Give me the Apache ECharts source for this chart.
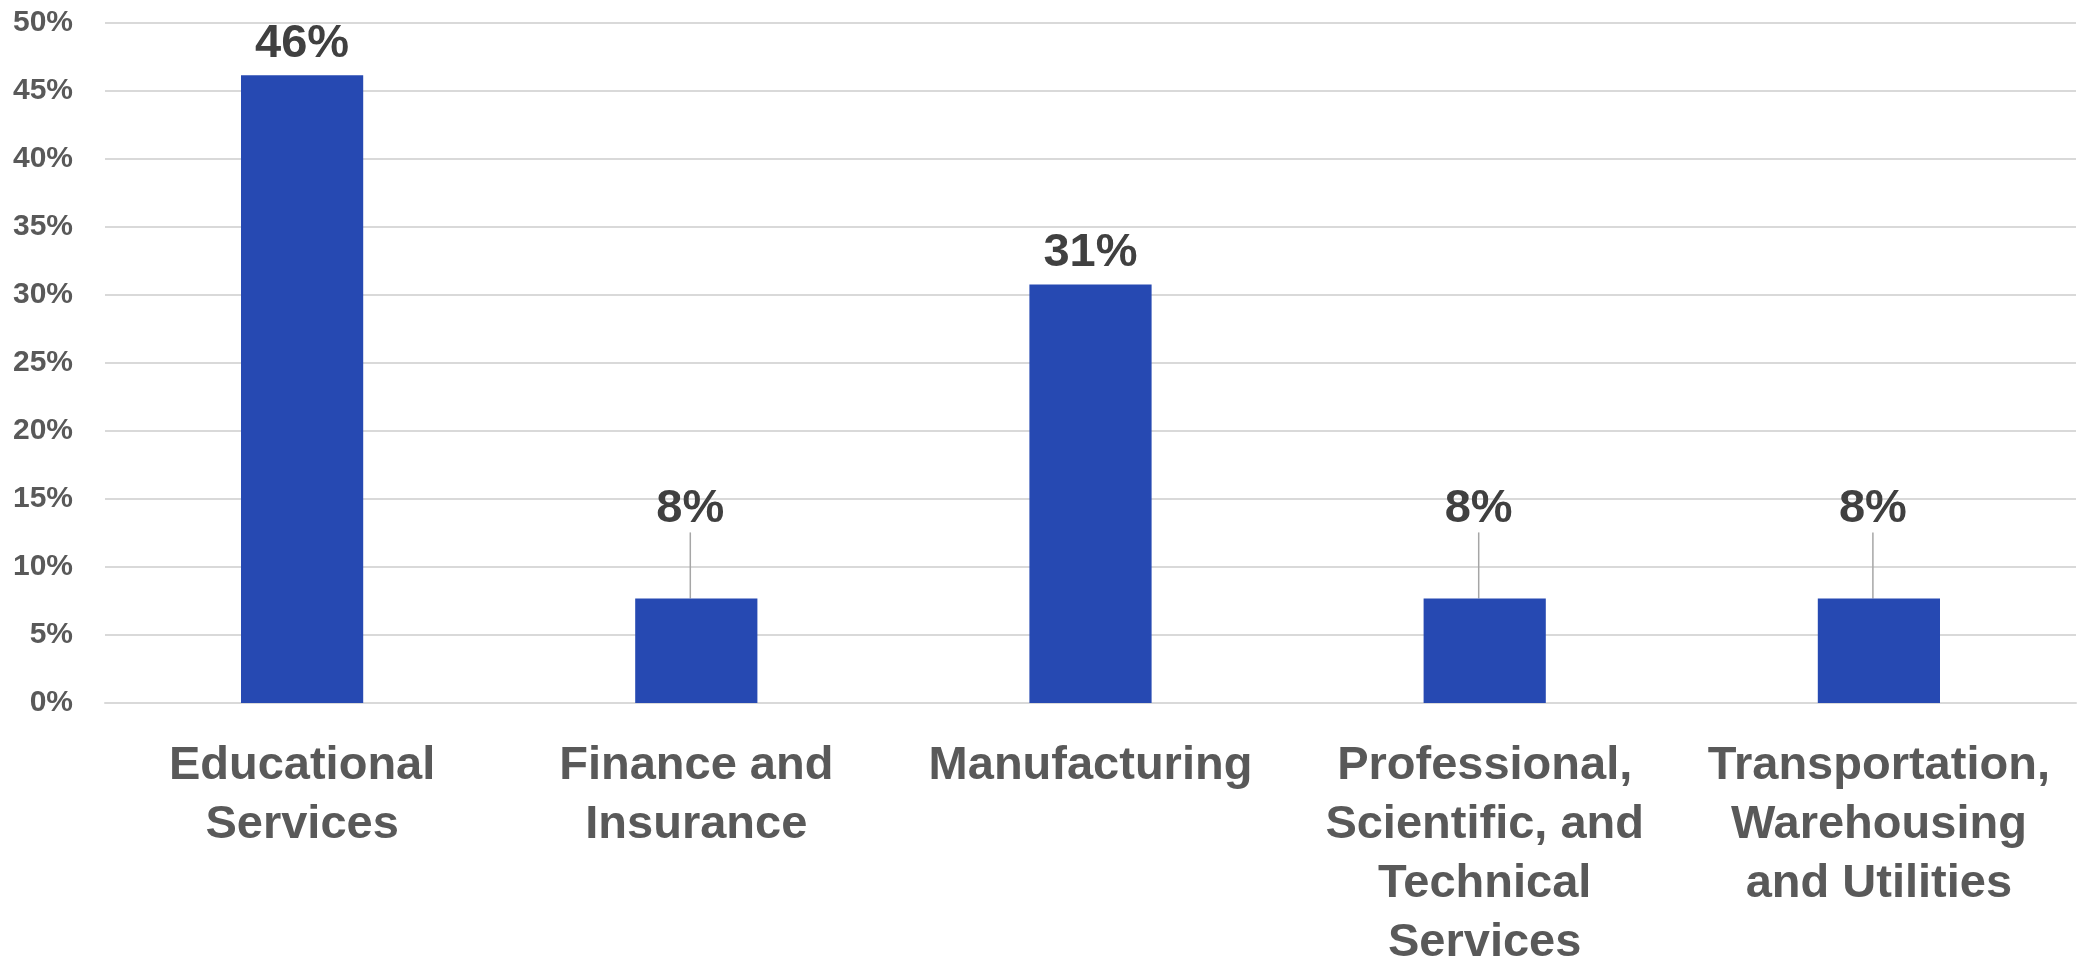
<!DOCTYPE html>
<html>
<head>
<meta charset="utf-8">
<title>Share by industry</title>
<script src="https://cdn.jsdelivr.net/npm/echarts@6/dist/echarts.min.js"></script>
<style>
  html, body { margin: 0; padding: 0; background: #ffffff; }
  #chart { width: 2090px; height: 959px; }
</style>
</head>
<body>
<div id="chart"></div>
<script>
// Industry categories (line breaks as shown under the axis)
const categories = [
  'Educational\nServices',
  'Finance and\nInsurance',
  'Manufacturing',
  'Professional,\nScientific, and\nTechnical\nServices',
  'Transportation,\nWarehousing\nand Utilities'
];

// Share of respondents per industry, in percent
const shares = [46.15, 7.69, 30.77, 7.69, 7.69];

// Value axis range and step, in percent
const axisMax = 50;
const axisStep = 5;

// Bars shorter than this get their label lifted with a leader line
const liftBelow = 10;

const FONT = '"Liberation Sans", Arial, sans-serif';

const chart = echarts.init(document.getElementById('chart'), null, { renderer: 'canvas' });

chart.setOption({
  animation: false,
  backgroundColor: '#ffffff',
  grid: {
    left: 105, right: 14, top: 23, bottom: 256,
    containLabel: false,
    outerBoundsMode: 'none'
  },
  xAxis: {
    type: 'category',
    data: categories,
    axisTick: { show: false },
    axisLine: { show: true, lineStyle: { color: '#d9d9d9', width: 2 } },
    axisLabel: {
      interval: 0,
      margin: 34,
      color: '#595959',
      fontFamily: FONT,
      fontWeight: 'bold',
      fontSize: 47,
      lineHeight: 59,
      align: 'center',
      verticalAlign: 'top'
    }
  },
  yAxis: {
    type: 'value',
    min: 0,
    max: axisMax,
    interval: axisStep,
    axisLine: { show: false },
    axisTick: { show: false },
    splitLine: { show: true, lineStyle: { color: '#d9d9d9', width: 2 } },
    axisLabel: {
      margin: 32,
      color: '#595959',
      fontFamily: FONT,
      fontWeight: 'bold',
      fontSize: 30,
      formatter: '{value}%'
    }
  },
  series: [{
    type: 'bar',
    data: shares.map(v => ({ value: v, labelLine: { show: v < liftBelow } })),
    barWidth: '31%',
    itemStyle: { color: '#2649B2' },
    label: {
      show: true,
      position: 'top',
      distance: 8,
      color: '#404040',
      fontFamily: FONT,
      fontWeight: 'bold',
      fontSize: 47,
      formatter: p => Math.round(p.value) + '%'
    },
    labelLayout: p => (shares[p.dataIndex] < liftBelow ? { dx: -6, dy: -58 } : {}),
    labelLine: {
      show: false,
      lineStyle: { color: '#a6a6a6', width: 1.5 }
    }
  }]
});
</script>
</body>
</html>
